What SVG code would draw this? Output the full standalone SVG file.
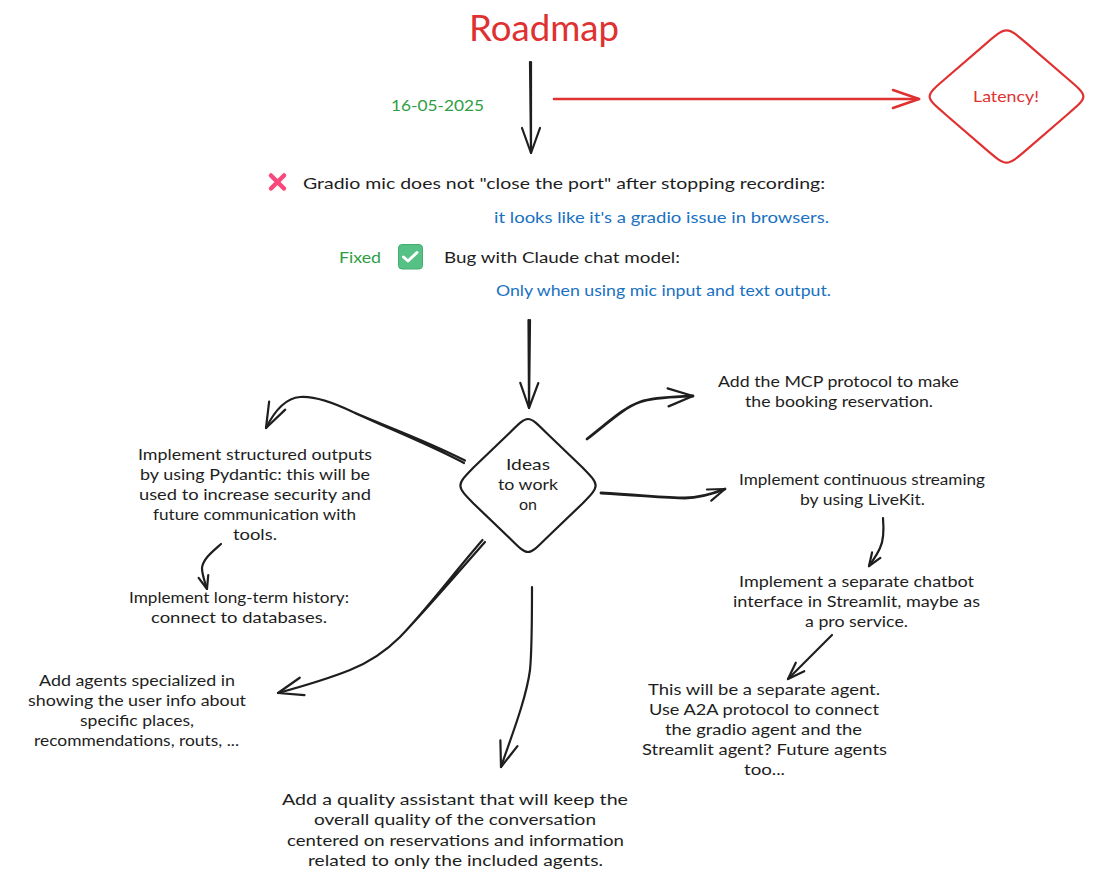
<svg xmlns="http://www.w3.org/2000/svg" width="1098" height="883" viewBox="0 0 1098 883">
<style>
text{font-family:"Lato","Open Sans","Noto Sans",sans-serif;font-size:16px;fill:#1e1e1e}
text.red{fill:#e03131}
text.green{fill:#2f9e44}
text.blue{fill:#1971c2}
text.title{font-size:36px;fill:#e03131}
.conn{fill:none;stroke:#1e1e1e;stroke-width:2.2;stroke-linecap:round;stroke-linejoin:round}
.redc{stroke:#e03131;stroke-width:2.6}
.thick{stroke-width:2.8}
.l{marker-end:url(#hl)}
.m{marker-end:url(#hm)}
.s{marker-end:url(#hs)}
.r{marker-end:url(#hr)}
.shape{fill:#fff;stroke-width:2.2;stroke-linejoin:round}
.head{fill:none;stroke:#1e1e1e;stroke-width:2.2;stroke-linecap:round;stroke-linejoin:round}
</style>
<defs>
<marker id="hl" markerUnits="userSpaceOnUse" viewBox="0 0 30 24" markerWidth="30" markerHeight="24" refX="27" refY="12" orient="auto"><path class="head" d="M2 3L27 12L2 21"/></marker>
<marker id="hm" markerUnits="userSpaceOnUse" viewBox="0 0 22 16" markerWidth="22" markerHeight="16" refX="19" refY="8" orient="auto"><path class="head" d="M2 2L19 8L2 14"/></marker>
<marker id="hs" markerUnits="userSpaceOnUse" viewBox="0 0 18 14" markerWidth="18" markerHeight="14" refX="15" refY="7" orient="auto"><path class="head" d="M2 2L15 7L2 12"/></marker>
<marker id="hr" markerUnits="userSpaceOnUse" viewBox="0 0 30 24" markerWidth="30" markerHeight="24" refX="28" refY="12" orient="auto"><path class="head" style="stroke:#e03131;stroke-width:2.6" d="M2 3L28 12L2 21"/></marker>
</defs>

<g id="connectors">
<path id="c-roadmap-list" class="conn l" d="M530 62L531 153M531 62L531 153"/>
<path id="c-latency" class="conn redc r" d="M554 99L919 99"/>
<path id="c-list-ideas" class="conn l" d="M528.500 320L529 408M530 320L529 408"/>
<path id="c-mcp" class="conn thick l" d="M587 439C610 421 625 407 640 402C655 397 675 397 693 396"/>
<path id="c-streaming" class="conn thick m" d="M601 493C640 495 665 498 685 498C700 498 712 494 725 489"/>
<path id="c-structured" class="conn l" d="M464 463C427 443.500 388 428.500 353 412M465 460.500C425 440 385 426 353 412C330 401 312 396 300 397C287 398 275 410 266 428"/>
<path id="c-history" class="conn s" d="M221 544C212 552 203 559 202 568C202 575 205 582 207 589"/>
<path id="c-agents" class="conn l" d="M482.500 540C453 574 426 610 400 637M485 542C455 576 425 611 400 637C385 652 370 662 350 670C325 680 300 687 278 693"/>
<path id="c-quality" class="conn l" d="M532 587C532 620 532 650 530 670C526 700 510 740 501 767"/>
<path id="c-chatbot" class="conn s" d="M883 518C884 530 884 540 880 548C877 555 873 560 869 566"/>
<path id="c-separate" class="conn m" d="M832 635L788 679"/>
</g>

<g id="title"><text class="title" x="469" y="41" textLength="150" lengthAdjust="spacingAndGlyphs">Roadmap</text></g>
<g id="date"><text class="green" x="391" y="111" textLength="93" lengthAdjust="spacingAndGlyphs">16-05-2025</text></g>

<g id="latency">
<path class="shape" stroke="#e03131" d="M1027 43.600L1068 79C1088.500 96.500 1088.500 96.500 1068 114L1027 149.400C1006.500 167 1006.500 167 986 149.400L945 114C924.500 96.500 924.500 96.500 945 79L986 43.600C1006.500 26 1006.500 26 1027 43.600Z"/>
<text class="red" x="973" y="102" textLength="66" lengthAdjust="spacingAndGlyphs">Latency!</text>
</g>

<g id="issue-gradio">
<path d="M271 175.500L284 188.500M284 175.500L271 188.500" fill="none" stroke="#f8497a" stroke-width="4.500" stroke-linecap="round"/>
<text x="303" y="189" textLength="522" lengthAdjust="spacingAndGlyphs">Gradio mic does not "close the port" after stopping recording:</text>
</g>
<g id="note-gradio"><text class="blue" x="494" y="223" textLength="335" lengthAdjust="spacingAndGlyphs">it looks like it's a gradio issue in browsers.</text></g>

<g id="fixed"><text class="green" x="339" y="263" textLength="42" lengthAdjust="spacingAndGlyphs">Fixed</text></g>
<g id="issue-claude">
<rect x="398.500" y="244.500" width="24" height="24.500" rx="3.500" fill="#56c184" stroke="#45ad74" stroke-width="1"/>
<path d="M403.500 257L408 261L417 252.500" fill="none" stroke="#fff" stroke-width="3" stroke-linecap="round" stroke-linejoin="round"/>
<text x="444" y="263" textLength="236" lengthAdjust="spacingAndGlyphs">Bug with Claude chat model:</text>
</g>
<g id="note-claude"><text class="blue" x="496" y="296" textLength="335" lengthAdjust="spacingAndGlyphs">Only when using mic input and text output.</text></g>

<g id="ideas">
<path class="shape" stroke="#1e1e1e" d="M546 432.500L582.500 467.500C600 485.500 600 485.500 582.500 503.500L546 538.500C528 556.500 528 556.500 510 538.500L473.500 503.500C456 485.500 456 485.500 473.500 467.500L510 432.500C528 414.500 528 414.500 546 432.500Z"/>
<text x="506" y="470" textLength="44" lengthAdjust="spacingAndGlyphs">Ideas</text>
<text x="498" y="490" textLength="60" lengthAdjust="spacingAndGlyphs">to work</text>
<text x="519" y="510" textLength="18" lengthAdjust="spacingAndGlyphs">on</text>
</g>

<g id="idea-mcp">
<text x="718" y="387" textLength="241" lengthAdjust="spacingAndGlyphs">Add the MCP protocol to make</text>
<text x="745" y="407" textLength="188" lengthAdjust="spacingAndGlyphs">the booking reservation.</text>
</g>
<g id="idea-streaming">
<text x="739" y="485" textLength="246" lengthAdjust="spacingAndGlyphs">Implement continuous streaming</text>
<text x="800" y="505" textLength="125" lengthAdjust="spacingAndGlyphs">by using LiveKit.</text>
</g>
<g id="idea-chatbot">
<text x="739" y="587" textLength="235" lengthAdjust="spacingAndGlyphs">Implement a separate chatbot</text>
<text x="733" y="607" textLength="247" lengthAdjust="spacingAndGlyphs">interface in Streamlit, maybe as</text>
<text x="805" y="627" textLength="103" lengthAdjust="spacingAndGlyphs">a pro service.</text>
</g>
<g id="idea-separate-agent">
<text x="648" y="695" textLength="232" lengthAdjust="spacingAndGlyphs">This will be a separate agent.</text>
<text x="649" y="715" textLength="230" lengthAdjust="spacingAndGlyphs">Use A2A protocol to connect</text>
<text x="665" y="735" textLength="197" lengthAdjust="spacingAndGlyphs">the gradio agent and the</text>
<text x="642" y="755" textLength="245" lengthAdjust="spacingAndGlyphs">Streamlit agent? Future agents</text>
<text x="744" y="775" textLength="41" lengthAdjust="spacingAndGlyphs">too...</text>
</g>
<g id="idea-structured">
<text x="138" y="460" textLength="234" lengthAdjust="spacingAndGlyphs">Implement structured outputs</text>
<text x="140" y="480" textLength="230" lengthAdjust="spacingAndGlyphs">by using Pydantic: this will be</text>
<text x="139" y="500" textLength="232" lengthAdjust="spacingAndGlyphs">used to increase security and</text>
<text x="153" y="520" textLength="203" lengthAdjust="spacingAndGlyphs">future communication with</text>
<text x="233" y="540" textLength="44" lengthAdjust="spacingAndGlyphs">tools.</text>
</g>
<g id="idea-history">
<text x="129" y="603" textLength="220" lengthAdjust="spacingAndGlyphs">Implement long-term history:</text>
<text x="151" y="623" textLength="176" lengthAdjust="spacingAndGlyphs">connect to databases.</text>
</g>
<g id="idea-agents">
<text x="39" y="686" textLength="196" lengthAdjust="spacingAndGlyphs">Add agents specialized in</text>
<text x="28" y="706" textLength="218" lengthAdjust="spacingAndGlyphs">showing the user info about</text>
<text x="80" y="726" textLength="114" lengthAdjust="spacingAndGlyphs">specific places,</text>
<text x="34" y="746" textLength="205" lengthAdjust="spacingAndGlyphs">recommendations, routs, ...</text>
</g>
<g id="idea-quality">
<text x="282" y="805" textLength="346" lengthAdjust="spacingAndGlyphs">Add a quality assistant that will keep the</text>
<text x="314" y="825" textLength="282" lengthAdjust="spacingAndGlyphs">overall quality of the conversation</text>
<text x="287" y="846" textLength="337" lengthAdjust="spacingAndGlyphs">centered on reservations and information</text>
<text x="308" y="866" textLength="295" lengthAdjust="spacingAndGlyphs">related to only the included agents.</text>
</g>
</svg>
